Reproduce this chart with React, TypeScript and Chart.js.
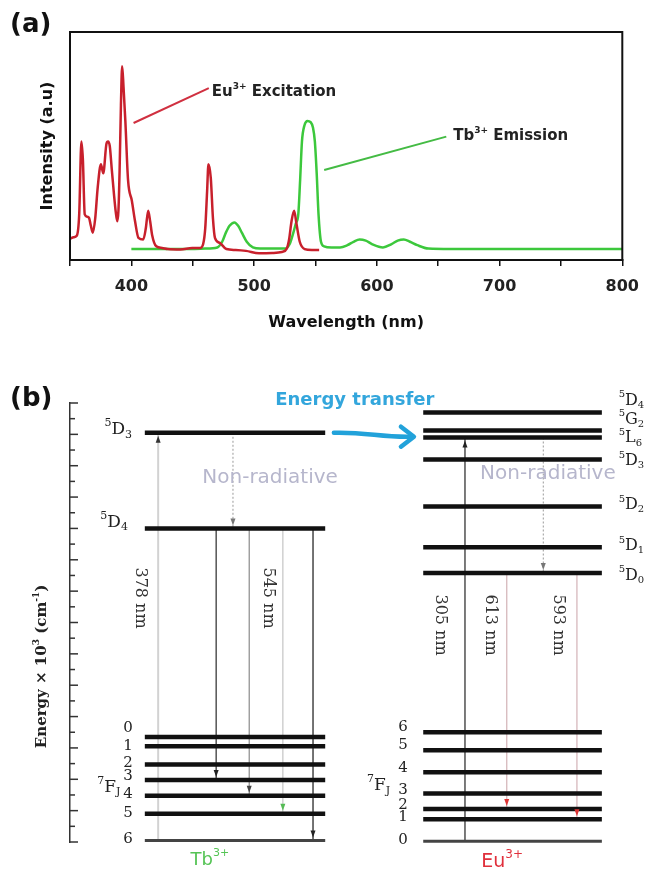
import React, { useEffect, useRef } from 'react';
import { Chart, registerables } from 'chart.js';
Chart.register(...registerables);

// ---------- Panel (a): spectra ----------
const EU_WL = [350, 353, 355.5, 357.5, 359.3, 360.5, 362, 364, 365.5, 367, 368.6, 370.5, 372.6, 375.2, 377.1, 379.7, 381, 382.4, 384, 385.8, 387.3, 388.5, 389.5, 390.4, 391.5, 392.5, 393.6, 395.1, 397.3, 400.4, 403, 405.8, 409.7, 411.8, 413.7, 415.3, 416.9, 420.3, 425, 429.6, 440, 449.6, 456.2, 458.5, 460.2, 461.7, 462.8, 464.7, 466.5, 468.1, 472.1, 477.4, 485, 493.4, 504, 515, 522.6, 526.6, 528.5, 530.5, 532.6, 534.5, 537.2, 541.2, 547, 553];
const EU_INT = [9.3, 10, 10.6, 20, 52, 44, 20, 19, 18.5, 15, 12, 18, 32, 42, 38, 51, 52, 50, 40, 29, 21, 17, 22, 39, 68, 85, 76, 61, 35, 26, 17, 9.7, 9, 14, 21.6, 17, 11, 6, 5.3, 4.8, 4.6, 5.3, 5.3, 7, 14, 30, 42, 36, 18, 9.7, 7.5, 4.8, 4.4, 4, 3, 3.1, 3.5, 5, 9, 17, 21.6, 16, 8, 4.8, 4.4, 4.4];
const TB_WL = [400, 420, 440, 460, 470, 474, 477, 480, 484, 487, 490, 494, 499, 505, 515, 525, 529, 532, 534, 536, 537.5, 539, 541, 543.5, 546, 548, 549.5, 551, 552.5, 554.5, 557, 563, 570, 576, 581, 586, 591, 596, 605, 612, 617, 622, 627, 633, 642, 660, 700, 750, 800];
const TB_INT = [4.8, 4.8, 4.8, 5, 5.5, 8, 12, 15, 16.5, 15, 12, 8, 5.5, 5, 5, 5, 7, 12, 16, 20, 35, 52, 59, 61, 60.5, 58, 52, 38, 20, 8, 6, 5.5, 5.5, 6.5, 8, 9, 8.5, 7, 5.5, 7, 8.5, 9, 8, 6.5, 5, 4.8, 4.8, 4.8, 4.8];
const X_LABELED = [400, 500, 600, 700, 800];
// pointer lines [wl, intensity] start -> end, and label anchors
const EU_POINTER = [[401.8, 60.1], [463.1, 75.4]];
const TB_POINTER = [[557.1, 39.5], [656.6, 54.1]];
const EU_LABEL_AT = [465.5, 73.7];
const TB_LABEL_AT = [662.2, 54.4];

// ---------- Panel (b): energy levels (x in diagram-width %, y in 10^3 cm^-1) ----------
const TB_SPAN = [12.9, 44.0];
const EU_SPAN = [60.9, 91.7];
const TB_LOWER = [0.1, 1.8, 2.95, 3.95, 4.95, 6.1, 6.7]; // 7F6..7F0
const TB_UPPER = [20.0, 26.1]; // 5D4, 5D3
const EU_LOWER = [0.05, 1.45, 2.1, 3.1, 4.45, 5.85, 7.0]; // 7F0..7F6
const EU_UPPER = [17.15, 18.8, 21.4, 24.4, 25.8, 26.25, 27.4]; // 5D0,5D1,5D2,5D3,5L6,5G2,5D4
const TB_J = ['0', '1', '2', '3', '4', '5', '6'];
const TB_J_Y = [7.27, 6.12, 5.04, 4.21, 3.06, 1.85, 0.19];
const EU_J = ['6', '5', '4', '3', '2', '1', '0'];
const EU_J_Y = [7.33, 6.19, 4.72, 3.32, 2.36, 1.6, 0.13];
const TB_UPPER_LABELS = [['5', 'D', '3', 26.3, 10.7], ['5', 'D', '4', 20.4, 10.0]];
const EU_UPPER_LABELS = [['5', 'D', '4', 28.15], ['5', 'G', '2', 26.95], ['5', 'L', '6', 25.75], ['5', 'D', '3', 24.3], ['5', 'D', '2', 21.5], ['5', 'D', '1', 18.9], ['5', 'D', '0', 17.0]];
const TRANSITIONS = [
  { x: 15.2, from: 0.1, to: 26.1, color: '#d2d2d2', width: 2, dash: [], head: '#333' },
  { x: 28.1, from: 26.1, to: 20.0, color: '#9a9a9a', width: 1, dash: [2, 2], head: '#777' },
  { x: 25.2, from: 20.0, to: 3.95, color: '#3a3a3a', width: 1.3, dash: [], head: '#222' },
  { x: 30.9, from: 20.0, to: 2.95, color: '#8a8a8a', width: 1.2, dash: [], head: '#444' },
  { x: 36.7, from: 20.0, to: 1.8, color: '#c4c4c4', width: 1.2, dash: [], head: '#55bb55' },
  { x: 41.9, from: 20.0, to: 0.1, color: '#2a2a2a', width: 1.3, dash: [], head: '#222' },
  { x: 68.1, from: 0.05, to: 25.8, color: '#333333', width: 1.3, dash: [], head: '#222' },
  { x: 81.6, from: 25.8, to: 17.15, color: '#9a9a9a', width: 1, dash: [2, 2], head: '#777' },
  { x: 75.3, from: 17.15, to: 2.1, color: '#d6b8bc', width: 1.3, dash: [], head: '#dd3333' },
  { x: 87.4, from: 17.15, to: 1.45, color: '#d6b8bc', width: 1.3, dash: [], head: '#dd3333' },
];
const NM_LABELS = [['378 nm', 12.1, 15.56], ['545 nm', 34.1, 15.56], ['305 nm', 63.8, 13.84], ['613 nm', 72.4, 13.84], ['593 nm', 84.1, 13.84]];
const TRANSFER = [[45.5, 26.1], [59.3, 25.85]];

type Seg = [string, string];
function drawRich(ctx: CanvasRenderingContext2D, segs: Seg[], x: number, y: number, size: number, family: string, weight: string, color: string, align: string) {
  const small = Math.round(size * 0.62);
  const fontOf = (s: number) => `${weight} ${s}px ${family}`;
  let total = 0;
  const widths = segs.map(([t, k]) => {
    ctx.font = fontOf(k ? small : size);
    const w = ctx.measureText(t).width;
    total += w;
    return w;
  });
  let cx = align === 'left' ? x : align === 'center' ? x - total / 2 : x - total;
  ctx.fillStyle = color;
  ctx.textBaseline = 'middle';
  ctx.textAlign = 'left';
  segs.forEach(([t, k], i) => {
    ctx.font = fontOf(k ? small : size);
    const dy = k === 'sup' ? -size * 0.36 : k === 'sub' ? size * 0.3 : 0;
    ctx.fillText(t, cx, y + dy);
    cx += widths[i];
  });
}

const SANS = '"DejaVu Sans", sans-serif';
const SERIF = '"DejaVu Serif", serif';

export default function App() {
  const aRef = useRef<HTMLCanvasElement>(null);
  const bRef = useRef<HTMLCanvasElement>(null);

  useEffect(() => {
    const tickFont = { family: SANS, weight: 'bold' as const, size: 16 };
    const chartA = new Chart(aRef.current!, {
      type: 'line',
      data: {
        datasets: [
          { data: EU_WL.map((x, i) => ({ x, y: EU_INT[i] })), borderColor: '#c8202c', borderWidth: 2.5, pointRadius: 0, cubicInterpolationMode: 'monotone', order: 0 },
          { data: TB_WL.map((x, i) => ({ x, y: TB_INT[i] })), borderColor: '#3cc83c', borderWidth: 2.5, pointRadius: 0, cubicInterpolationMode: 'monotone', order: 1 },
          { data: EU_POINTER.map(([x, y]) => ({ x, y })), borderColor: '#d03040', borderWidth: 2, pointRadius: 0, order: 2 },
          { data: TB_POINTER.map(([x, y]) => ({ x, y })), borderColor: '#44bb44', borderWidth: 2, pointRadius: 0, order: 2 },
        ],
      },
      options: {
        responsive: false,
        animation: false,
        events: [],
        layout: { padding: { top: 32, right: 15, left: 0, bottom: 0 } },
        plugins: { legend: { display: false }, tooltip: { enabled: false } },
        scales: {
          x: {
            type: 'linear', min: 350, max: 800,
            ticks: { stepSize: 50, autoSkip: false, maxRotation: 0, padding: 11, color: '#222', font: tickFont,
              callback: (v: any) => (X_LABELED.includes(Number(v)) ? String(v) : '') },
            grid: { drawOnChartArea: false, drawTicks: true, tickLength: 6, color: '#111', lineWidth: 1.5 },
            border: { display: true, color: '#111', width: 2 },
            title: { display: true, text: 'Wavelength (nm)', color: '#111', font: tickFont, padding: { top: 0, bottom: 12.4 } },
            afterFit: (s: any) => { s.height = 85; },
          },
          y: {
            min: 0, max: 100,
            ticks: { display: false },
            grid: { display: false },
            border: { display: false },
            title: { display: true, text: 'Intensity (a.u)', color: '#111', font: tickFont, padding: { top: 38.4, bottom: 0 } },
            afterFit: (s: any) => { s.width = 70; },
          },
        },
      },
      plugins: [{
        id: 'annA',
        afterDraw(chart: any) {
          const { ctx, chartArea: a, scales } = chart;
          ctx.save();
          ctx.strokeStyle = '#111';
          ctx.lineWidth = 2;
          ctx.strokeRect(a.left, a.top, a.right - a.left, a.bottom - a.top);
          drawRich(ctx, [['(a)', '']], 10, 25, 26, SANS, 'bold', '#111', 'left');
          const X = scales.x, Y = scales.y;
          drawRich(ctx, [['Eu', ''], ['3+', 'sup'], [' Excitation', '']], X.getPixelForValue(EU_LABEL_AT[0]), Y.getPixelForValue(EU_LABEL_AT[1]), 15, SANS, 'bold', '#222', 'left');
          drawRich(ctx, [['Tb', ''], ['3+', 'sup'], [' Emission', '']], X.getPixelForValue(TB_LABEL_AT[0]), Y.getPixelForValue(TB_LABEL_AT[1]), 15, SANS, 'bold', '#222', 'left');
          ctx.restore();
        },
      }],
    } as any);

    const levelDs = (span: number[], e: number, w: number, c: string) => ({
      data: [{ x: span[0], y: e }, { x: span[1], y: e }], showLine: true, borderColor: c, borderWidth: w, pointRadius: 0, clip: false, order: 0, borderCapStyle: 'butt',
    });
    const datasetsB: any[] = [];
    TB_LOWER.forEach((e, i) => datasetsB.push(levelDs(TB_SPAN, e, i === 0 ? 3 : 4.5, i === 0 ? '#444' : '#111')));
    TB_UPPER.forEach((e) => datasetsB.push(levelDs(TB_SPAN, e, 4.5, '#111')));
    EU_LOWER.forEach((e, i) => datasetsB.push(levelDs(EU_SPAN, e, i === 0 ? 3 : 4.5, i === 0 ? '#444' : '#111')));
    EU_UPPER.forEach((e) => datasetsB.push(levelDs(EU_SPAN, e, 4.5, '#111')));
    TRANSITIONS.forEach((t) => datasetsB.push({
      data: [{ x: t.x, y: t.from }, { x: t.x, y: t.to }], showLine: true, borderColor: t.color, borderWidth: t.width, borderDash: t.dash, pointRadius: 0, clip: false, order: 1,
    }));

    const chartB = new Chart(bRef.current!, {
      type: 'scatter',
      data: { datasets: datasetsB },
      options: {
        responsive: false,
        animation: false,
        events: [],
        layout: { padding: { top: 58, right: 0, left: 0, bottom: 31 } },
        plugins: { legend: { display: false }, tooltip: { enabled: false } },
        scales: {
          x: { type: 'linear', min: 0, max: 100, display: false },
          y: {
            min: 0, max: 28,
            ticks: { display: false, stepSize: 1 },
            grid: { display: false },
            border: { display: true, color: '#333', width: 1.5 },
            afterFit: (s: any) => { s.width = 70; },
          },
        },
      },
      plugins: [{
        id: 'annB',
        afterDatasetsDraw(chart: any) {
          const { ctx, scales } = chart;
          const X = scales.x, Y = scales.y;
          const px = (v: number) => X.getPixelForValue(v);
          const py = (v: number) => Y.getPixelForValue(v);
          ctx.save();
          // inward ticks on the energy axis
          ctx.strokeStyle = '#333';
          ctx.lineWidth = 1.5;
          Y.ticks.forEach((t: any) => {
            const y = py(t.value);
            const len = t.value % 2 === 0 ? 8 : 5;
            ctx.beginPath();
            ctx.moveTo(Y.right, y);
            ctx.lineTo(Y.right + len, y);
            ctx.stroke();
          });
          // arrowheads
          TRANSITIONS.forEach((t) => {
            const x = px(t.x), y = py(t.to);
            const dir = t.to > t.from ? 1 : -1; // 1 => pointing up
            const tipY = y + dir * 3;
            ctx.fillStyle = t.head;
            ctx.beginPath();
            ctx.moveTo(x, tipY);
            ctx.lineTo(x - 2.5, tipY + dir * 7);
            ctx.lineTo(x + 2.5, tipY + dir * 7);
            ctx.closePath();
            ctx.fill();
          });
          // energy transfer arrow
          const [s, e] = TRANSFER;
          const x0 = px(s[0]), y0 = py(s[1]), x1 = px(e[0]), y1 = py(e[1]);
          ctx.strokeStyle = '#22a2da';
          ctx.lineWidth = 4.5;
          ctx.lineCap = 'round';
          ctx.beginPath();
          ctx.moveTo(x0, y0);
          ctx.bezierCurveTo(x0 + (x1 - x0) * 0.4, y0 - 1, x0 + (x1 - x0) * 0.6, y1 + 1, x1 - 2, y1);
          ctx.stroke();
          ctx.lineJoin = 'round';
          ctx.beginPath();
          ctx.moveTo(x1 - 13, y1 - 10);
          ctx.lineTo(x1, y1);
          ctx.lineTo(x1 - 13, y1 + 10);
          ctx.stroke();
          // texts
          drawRich(ctx, [['(b)', '']], 10, 54, 26, SANS, 'bold', '#111', 'left');
          drawRich(ctx, [['Energy transfer', '']], px(49.1), py(28.2), 18, SANS, 'bold', '#33a6dc', 'center');
          drawRich(ctx, [['Non-radiative', '']], px(34.5), py(23.2), 20, SANS, 'normal', '#b6b6cc', 'center');
          drawRich(ctx, [['Non-radiative', '']], px(82.4), py(23.5), 20, SANS, 'normal', '#b6b6cc', 'center');
          TB_UPPER_LABELS.forEach(([sup, b, sub, y, x]) => drawRich(ctx, [[sup as string, 'sup'], [b as string, ''], [sub as string, 'sub']], px(x as number), py(y as number), 17, SERIF, 'normal', '#222', 'right'));
          EU_UPPER_LABELS.forEach(([sup, b, sub, y]) => drawRich(ctx, [[sup as string, 'sup'], [b as string, ''], [sub as string, 'sub']], px(94.6), py(y as number), 16, SERIF, 'normal', '#222', 'left'));
          TB_J.forEach((j, i) => drawRich(ctx, [[j, '']], px(10.0), py(TB_J_Y[i]), 15, SERIF, 'normal', '#222', 'center'));
          EU_J.forEach((j, i) => drawRich(ctx, [[j, '']], px(57.4), py(EU_J_Y[i]), 15, SERIF, 'normal', '#222', 'center'));
          drawRich(ctx, [['7', 'sup'], ['F', ''], ['J', 'sub']], px(6.7), py(3.5), 17, SERIF, 'normal', '#222', 'center');
          drawRich(ctx, [['7', 'sup'], ['F', ''], ['J', 'sub']], px(53.2), py(3.6), 17, SERIF, 'normal', '#222', 'center');
          drawRich(ctx, [['Tb', ''], ['3+', 'sup']], px(24.1), py(-1.15), 18, SANS, 'normal', '#55c455', 'center');
          drawRich(ctx, [['Eu', ''], ['3+', 'sup']], px(74.5), py(-1.28), 19, SANS, 'normal', '#e0303c', 'center');
          NM_LABELS.forEach(([t, x, y]) => {
            ctx.save();
            ctx.translate(px(x as number), py(y as number));
            ctx.rotate(Math.PI / 2);
            drawRich(ctx, [[t as string, '']], 0, 0, 16, SERIF, 'normal', '#333', 'center');
            ctx.restore();
          });
          ctx.save();
          ctx.translate(Y.left + 42, py(11.2));
          ctx.rotate(-Math.PI / 2);
          drawRich(ctx, [['Energy \u00d7 10', ''], ['3', 'sup'], [' (cm', ''], ['-1', 'sup'], [')', '']], 0, 0, 15, SERIF, 'bold', '#222', 'center');
          ctx.restore();
          ctx.restore();
        },
      }],
    } as any);

    return () => {
      chartA.destroy();
      chartB.destroy();
    };
  }, []);

  return (
    <div style={{ position: 'absolute', left: 0, top: 0, width: 650, height: 873, background: '#fff' }}>
      <canvas ref={aRef} width={650} height={345} style={{ display: 'block' }} />
      <canvas ref={bRef} width={650} height={528} style={{ display: 'block' }} />
    </div>
  );
}
